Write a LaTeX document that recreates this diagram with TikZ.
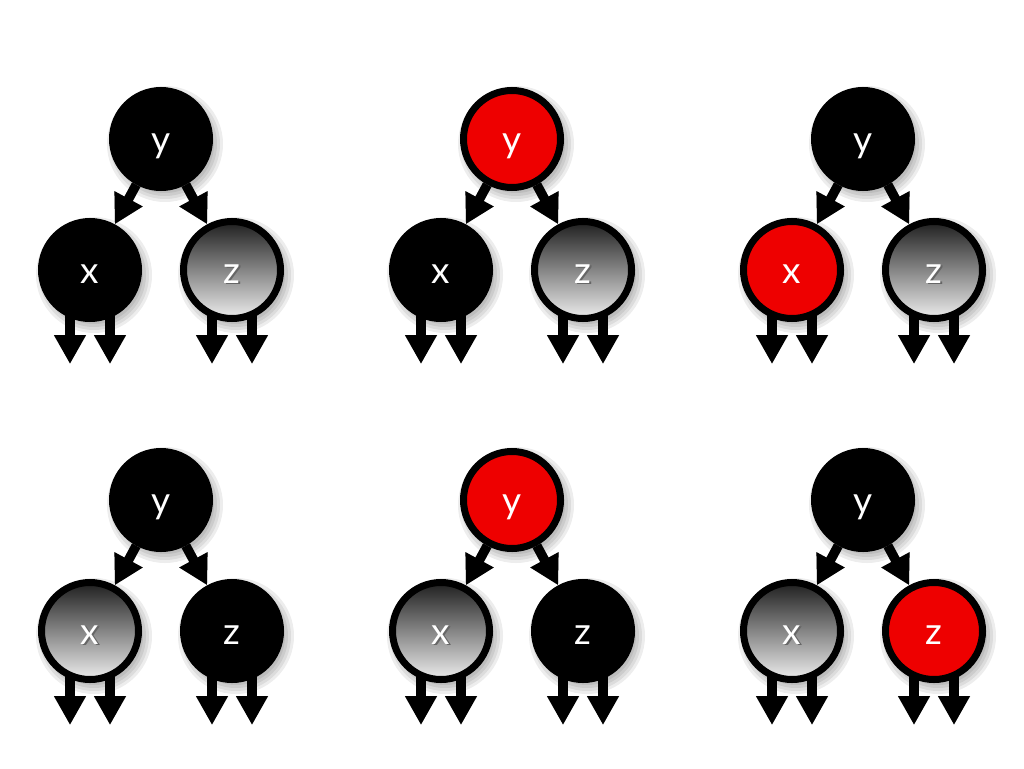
\documentclass[tikz,border=0pt]{standalone}
\usepackage{fontspec}
\usepackage{xstring}
\setmainfont{Lato}
\usetikzlibrary{arrows.meta,calc}
\definecolor{nodered}{HTML}{EE0000}
\newcommand\plaintxt[1]{\raisebox{-13pt}{#1}}
\newcommand\shtxt[1]{\raisebox{-13pt}{\rlap{\kern1.5pt\raisebox{-1.5pt}{\color{black!60}#1}}#1}}
\tikzset{
  rb/.style={circle, minimum size=97pt, inner sep=0pt, line width=7pt, draw=black,
    text height=0pt, text depth=0pt, text=white, font=\fontsize{37}{37}\selectfont},
  blk/.style={rb, fill=black},
  rednd/.style={rb, fill=nodered},
  grad/.style={rb, top color=black!88, bottom color=black!7},
  arr/.style={line width=9.5pt, -{Triangle[length=29pt,width=30pt]}},
  arrsh/.style={arr, draw=black!30, fill=black!30},
  shdisc/.style={fill=black, opacity=0.07}
}
% soft shadow of a disc at centre #1
\newcommand\discshadow[1]{%
  \foreach \rr in {46,49,52,55,58}{\fill[shdisc] ($(#1)+(4,5)$) circle (\rr);}}
\newcommand\tree[6]{%
  % #1 prefix, #2 x offset, #3 y offset, #4 y style, #5 x style, #6 z style
  \begin{scope}[shift={(#2,#3)}]
    \coordinate (#1yc) at (0,0);
    \coordinate (#1xc) at (-71,131);
    \coordinate (#1zc) at (71,131);
    \coordinate (#1xl) at (-91,225);
    \coordinate (#1xr) at (-51,225);
    \coordinate (#1zl) at (51,225);
    \coordinate (#1zr) at (91,225);
    % shadows
    \begin{scope}[shift={(4,4)}]
      \draw[arrsh] ($(#1xl)+(0,-50)$) -- (#1xl);
      \draw[arrsh] ($(#1xr)+(0,-50)$) -- (#1xr);
      \draw[arrsh] ($(#1zl)+(0,-50)$) -- (#1zl);
      \draw[arrsh] ($(#1zr)+(0,-50)$) -- (#1zr);
      \draw[arrsh] ($(#1yc)!52pt!(#1xc)$) -- ($(#1xc)!52pt!(#1yc)$);
      \draw[arrsh] ($(#1yc)!52pt!(#1zc)$) -- ($(#1zc)!52pt!(#1yc)$);
    \end{scope}
    \discshadow{#1yc}\discshadow{#1xc}\discshadow{#1zc}
    \draw[arr] ($(#1xl)+(0,-50)$) -- (#1xl);
    \draw[arr] ($(#1xr)+(0,-50)$) -- (#1xr);
    \draw[arr] ($(#1zl)+(0,-50)$) -- (#1zl);
    \draw[arr] ($(#1zr)+(0,-50)$) -- (#1zr);
    \node[#4] (#1y) at (#1yc) {\plaintxt{y}};
    \node[#5] (#1x) at (#1xc) {\IfStrEq{#5}{grad}{\shtxt{x}}{\plaintxt{x}}};
    \node[#6] (#1z) at (#1zc) {\IfStrEq{#6}{grad}{\shtxt{z}}{\plaintxt{z}}};
    \draw[arr] (#1y) -- (#1x);
    \draw[arr] (#1y) -- (#1z);
  \end{scope}}
\begin{document}
\begin{tikzpicture}[x=1pt,y=-1pt]
\useasboundingbox[fill=white] (0,0) rectangle (1024,768);
\tree{a}{161}{139}{blk}{blk}{grad}
\tree{b}{512}{139}{rednd}{blk}{grad}
\tree{c}{863}{139}{blk}{rednd}{grad}
\tree{d}{161}{500}{blk}{grad}{blk}
\tree{e}{512}{500}{rednd}{grad}{blk}
\tree{f}{863}{500}{blk}{grad}{rednd}
\end{tikzpicture}
\end{document}
